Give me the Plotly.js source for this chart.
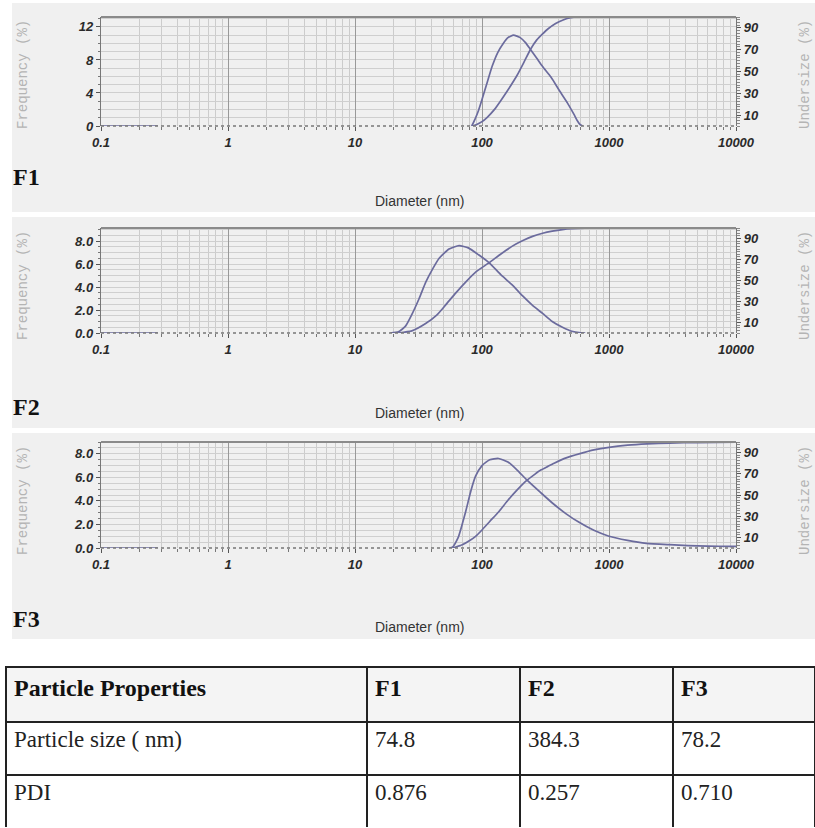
<!DOCTYPE html>
<html>
<head>
<meta charset="utf-8">
<script src="https://cdn.plot.ly/plotly-3.0.1.min.js"></script>
<style>html,body{margin:0;padding:0;background:#fff;}#chart{width:815px;height:828px;}</style>
</head>
<body>
<div id="chart"></div>
<script>
// ---------------- data ----------------
// diameters in nm, frequency in %, cumulative undersize in %
var f1FreqX = [83, 88, 94, 100, 110, 120, 133, 147, 160, 177, 200, 220, 240, 270, 300, 350, 410, 470, 530, 560, 590, 620];
var f1FreqY = [0, 0.8, 1.9, 3.2, 5.3, 7.2, 8.9, 10.0, 10.7, 11.0, 10.7, 10.1, 9.3, 8.2, 7.2, 5.9, 4.2, 2.8, 1.4, 0.7, 0.2, 0];
var f1CumX  = [83, 90, 100, 110, 125, 140, 160, 190, 215, 240, 270, 300, 330, 380, 440, 500, 560, 10000];
var f1CumY  = [0, 1.2, 4, 8, 15, 23, 33, 47, 59, 70, 79, 84.5, 89, 94, 97.5, 99.3, 100, 100];

var f2FreqX = [19, 22, 25, 28, 32, 36, 41, 46, 55, 66, 78, 94, 114, 140, 172, 210, 250, 300, 357, 430, 510, 600, 650];
var f2FreqY = [0, 0.1, 0.6, 1.6, 3.0, 4.4, 5.6, 6.5, 7.3, 7.6, 7.4, 6.8, 6.1, 5.1, 4.2, 3.2, 2.4, 1.7, 1.0, 0.5, 0.15, 0.02, 0];
var f2CumX  = [22, 28, 36, 44, 52, 62, 75, 90, 114, 140, 172, 210, 250, 300, 357, 430, 510, 650, 1000, 10000];
var f2CumY  = [0, 2, 9, 17, 27, 38, 49, 58.5, 67, 75, 82.5, 88, 92, 95, 97, 98.5, 99.3, 99.8, 100, 100];

var f3FreqX = [55, 59, 65, 74, 82, 89, 100, 115, 135, 160, 190, 224, 290, 360, 460, 577, 760, 1000, 1400, 1970, 3000, 4200, 6000, 8900, 10000];
var f3FreqY = [0, 0.1, 0.9, 3.0, 4.9, 6.1, 7.0, 7.5, 7.6, 7.3, 6.6, 5.8, 4.7, 3.8, 2.9, 2.2, 1.5, 1.0, 0.65, 0.4, 0.28, 0.2, 0.16, 0.14, 0.13];
var f3CumX  = [59, 70, 80, 89, 100, 115, 135, 160, 190, 224, 260, 290, 330, 370, 460, 590, 760, 1000, 1400, 2000, 3000, 5000, 10000];
var f3CumY  = [0, 3, 7, 11, 17, 25, 34, 45, 55, 63.5, 69.5, 73.5, 77, 80, 85, 89, 92.5, 95, 97, 98.2, 99, 99.5, 99.8];

// short solid zero segment at the start of every frequency axis
var baseX = [0.1, 0.28];
var baseY = [0, 0];

// ticks and labels
var xTickVals = [0.1, 1, 10, 100, 1000, 10000];
var xTickText = ['0.1', '1', '10', '100', '1000', '10000'];
var f1FreqTickVals = [0, 4, 8, 12];
var f1FreqTickText = ['0', '4', '8', '12'];
var f23FreqTickVals = [0, 2, 4, 6, 8];
var f23FreqTickText = ['0.0', '2.0', '4.0', '6.0', '8.0'];
var undersizeTickVals = [10, 30, 50, 70, 90];
var undersizeTickText = ['10', '30', '50', '70', '90'];

var panelNames = ['F1', 'F2', 'F3'];
var xTitle = 'Diameter (nm)';
var freqTitle = 'Frequency (%)';
var underTitle = 'Undersize (%)';

// table
var tableHeader = ['Particle Properties', 'F1', 'F2', 'F3'];
var propNames = ['Particle size ( nm)', 'PDI'];
var f1Props = ['74.8', '0.876'];
var f2Props = ['384.3', '0.257'];
var f3Props = ['78.2', '0.710'];

// ---------------- layout helpers ----------------
var W = 815, H = 828;
function PX(p) { return p / W; }
function PY(p) { return 1 - p / H; }

var curveColor = '#6b6b9d';
var tickFont = {family: 'Liberation Sans, Arial, sans-serif', size: 13, color: '#2a2a2a', weight: 'bold', style: 'italic'};

// pixel geometry of the three panels
var panels = [
  {top: 17,  bottom: 126, freqMax: 13.2, fTV: f1FreqTickVals, fTT: f1FreqTickText, fMinor: 1,
   bgTop: 3, bgBottom: 212, lblY: 177, titleY: 201, yTitleC: 75},
  {top: 228, bottom: 333, freqMax: 9.13, fTV: f23FreqTickVals, fTT: f23FreqTickText, fMinor: 0.5,
   bgTop: 217, bgBottom: 428, lblY: 407, titleY: 413, yTitleC: 286},
  {top: 442, bottom: 548, freqMax: 9.0, fTV: f23FreqTickVals, fTT: f23FreqTickText, fMinor: 0.5,
   bgTop: 433, bgBottom: 639, lblY: 619, titleY: 627, yTitleC: 501}
];
var xLeft = 101, xRight = 736;

var freqX = [f1FreqX, f2FreqX, f3FreqX];
var freqY = [f1FreqY, f2FreqY, f3FreqY];
var cumX = [f1CumX, f2CumX, f3CumX];
var cumY = [f1CumY, f2CumY, f3CumY];

var data = [];
var layout = {
  width: W, height: H,
  margin: {l: 0, r: 0, t: 0, b: 0},
  paper_bgcolor: '#ffffff',
  plot_bgcolor: '#fcfcfc',
  showlegend: false,
  shapes: [],
  annotations: []
};

panels.forEach(function (p, i) {
  var xa = i === 0 ? 'x' : 'x' + (i + 1);
  var ya = i === 0 ? 'y' : 'y' + (2 * i + 1);
  var yb = 'y' + (2 * i + 2);
  var xKey = i === 0 ? 'xaxis' : 'xaxis' + (i + 1);
  var yKey = i === 0 ? 'yaxis' : 'yaxis' + (2 * i + 1);
  var ybKey = 'yaxis' + (2 * i + 2);

  data.push({type: 'scatter', mode: 'lines', x: baseX, y: baseY, xaxis: xa, yaxis: ya,
             line: {color: curveColor, width: 1.6}, hoverinfo: 'skip'});
  data.push({type: 'scatter', mode: 'lines', x: freqX[i], y: freqY[i], xaxis: xa, yaxis: ya,
             line: {color: curveColor, width: 1.7, shape: 'spline', smoothing: 0.5}, name: panelNames[i] + ' frequency'});
  data.push({type: 'scatter', mode: 'lines', x: cumX[i], y: cumY[i], xaxis: xa, yaxis: yb,
             line: {color: curveColor, width: 1.7, shape: 'spline', smoothing: 0.5}, name: panelNames[i] + ' undersize'});

  layout[xKey] = {
    type: 'log', range: [-1, 4], domain: [PX(xLeft), PX(xRight)], anchor: ya,
    tickmode: 'array', tickvals: xTickVals, ticktext: xTickText,
    tickfont: tickFont, ticks: 'outside', ticklen: 4, tickcolor: '#555',
    showgrid: true, gridcolor: '#999999', gridwidth: 1,
    minor: {dtick: 'D1', ticks: 'outside', ticklen: 3, tickcolor: '#777', showgrid: true, gridcolor: '#cccccc', gridwidth: 1},
    showline: false, zeroline: false, fixedrange: true
  };
  layout[yKey] = {
    range: [0, p.freqMax], domain: [PY(p.bottom), PY(p.top)], anchor: xa,
    tickmode: 'array', tickvals: p.fTV, ticktext: p.fTT, tickfont: tickFont,
    ticks: 'outside', ticklen: 4, tickcolor: '#555',
    showgrid: false, zeroline: false,
    minor: {dtick: p.fMinor, ticks: 'outside', ticklen: 2, tickcolor: '#777', showgrid: true, gridcolor: '#cfcfcf', gridwidth: 1},
    showline: true, linecolor: '#777', linewidth: 1.2, fixedrange: true
  };
  layout[ybKey] = {
    range: [0, 100], overlaying: ya, side: 'right', anchor: xa,
    tickmode: 'array', tickvals: undersizeTickVals, ticktext: undersizeTickText, tickfont: tickFont,
    ticks: 'outside', ticklen: 4, tickcolor: '#555',
    minor: {dtick: 2.5, ticks: 'outside', ticklen: 3, tickcolor: '#888', showgrid: false},
    showgrid: false, zeroline: false,
    showline: true, linecolor: '#777', linewidth: 1.2, fixedrange: true
  };

  // panel background
  layout.shapes.push({type: 'rect', xref: 'paper', yref: 'paper', layer: 'below',
    x0: PX(12), x1: 1, y0: PY(p.bgBottom), y1: PY(p.bgTop), fillcolor: '#f0f0f0', line: {width: 0}});
  // top border of plot box
  layout.shapes.push({type: 'line', xref: xa + ' domain', yref: ya + ' domain', x0: 0, x1: 1, y0: 1, y1: 1,
    line: {color: '#8a8a8a', width: 2}});
  // dotted baseline
  layout.shapes.push({type: 'line', xref: xa + ' domain', yref: ya + ' domain', x0: 0, x1: 1, y0: 0, y1: 0,
    line: {color: '#777', width: 1.3, dash: 'dot'}});

  layout.annotations.push({xref: 'paper', yref: 'paper', x: PX(419), y: PY(p.titleY), text: xTitle, showarrow: false,
    font: {family: 'Liberation Sans, Arial, sans-serif', size: 14, color: '#333'}, xanchor: 'center', yanchor: 'middle'});
  layout.annotations.push({xref: 'paper', yref: 'paper', x: PX(11), y: PY(p.lblY), text: '<b>' + panelNames[i] + '</b>', showarrow: false,
    font: {family: 'Liberation Serif, Times New Roman, serif', size: 24, color: '#111'}, xanchor: 'left', yanchor: 'middle'});
  layout.annotations.push({xref: 'paper', yref: 'paper', x: PX(23), y: PY(p.yTitleC), text: freqTitle, showarrow: false, textangle: -90,
    font: {family: 'Liberation Mono, DejaVu Sans Mono, monospace', size: 14, color: '#b4b4b4'}, xanchor: 'center', yanchor: 'middle'});
  layout.annotations.push({xref: 'paper', yref: 'paper', x: PX(805), y: PY(p.yTitleC), text: underTitle, showarrow: false, textangle: -90,
    font: {family: 'Liberation Mono, DejaVu Sans Mono, monospace', size: 14, color: '#b4b4b4'}, xanchor: 'center', yanchor: 'middle'});
});

var serif = 'Liberation Serif, Times New Roman, serif';
data.push({
  type: 'table',
  domain: {x: [PX(6), 1], y: [0, PY(667)]},
  columnwidth: [361, 153, 153, 142],
  header: {
    values: tableHeader.map(function (t) { return '<b>' + t + '</b>'; }),
    align: 'left', height: 55,
    font: {family: serif, size: 24, color: '#111'},
    fill: {color: '#f4f4f4'},
    line: {color: '#222', width: 1.5}
  },
  cells: {
    values: [propNames, f1Props, f2Props, f3Props],
    align: 'left', height: 53,
    font: {family: serif, size: 23, color: '#222'},
    fill: {color: '#ffffff'},
    line: {color: '#222', width: 1.5}
  }
});

Plotly.newPlot('chart', data, layout, {displayModeBar: false, staticPlot: true});
</script>
</body>
</html>
